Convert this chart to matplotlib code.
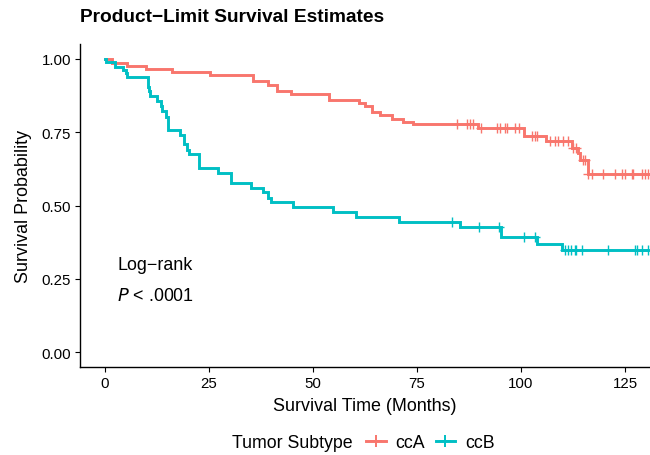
import numpy as np
import matplotlib
matplotlib.use("Agg")
import matplotlib.pyplot as plt
from matplotlib.lines import Line2D

plt.rcParams['font.family'] = ['Liberation Sans', 'DejaVu Sans']

groups = ["ccA", "ccB"]
colors = ["#F8766D", "#00BFC4"]

ccA_times = [0, 1.6, 5.4, 9.9, 16.0, 25.2, 35.5, 39.2, 41.4, 44.6, 53.8, 61.1, 62.5,
             64.3, 66.1, 68.9, 71.6, 74.1, 89.7, 100.6, 106.0, 112.2, 113.8, 114.2, 116.0]
ccA_surv = [1.0, 0.985, 0.976, 0.965, 0.953, 0.943, 0.923, 0.912, 0.889, 0.881, 0.858,
            0.849, 0.838, 0.818, 0.807, 0.795, 0.786, 0.777, 0.764, 0.735, 0.720, 0.695,
            0.678, 0.655, 0.606]
ccA_censor = [84.5, 86.9, 87.7, 88.5, 90.5, 94.2, 95.0, 96.2, 96.6, 98.6, 99.4, 102.6,
              103.4, 103.9, 107.0, 108.2, 109.0, 110.2, 111.4, 112.6, 113.2, 114.8, 115.4,
              116.2, 117.0, 119.8, 122.6, 124.2, 125.0, 126.6, 127.0, 129.0, 129.8, 130.6]

ccB_times = [0, 0.2, 2.4, 4.4, 5.0, 5.2, 10.4, 10.6, 10.9, 12.4, 13.4, 13.8, 14.7, 15.2,
             18.0, 19.0, 19.8, 20.3, 22.6, 27.2, 30.2, 35.1, 38.1, 39.1, 39.9, 45.3,
             54.7, 60.3, 70.7, 85.3, 95.2, 103.8, 109.8]
ccB_surv = [1.0, 0.989, 0.971, 0.963, 0.952, 0.938, 0.905, 0.890, 0.874, 0.857, 0.840,
            0.823, 0.803, 0.758, 0.741, 0.709, 0.690, 0.676, 0.627, 0.610, 0.575, 0.558,
            0.545, 0.527, 0.512, 0.495, 0.478, 0.461, 0.444, 0.427, 0.393, 0.370, 0.347]
ccB_censor = [83.3, 89.9, 94.7, 100.6, 103.4, 110.6, 111.4, 111.9, 113.0, 113.2, 114.6,
              121.0, 127.4, 127.8, 129.0, 130.6]

x_ticks = [0, 25, 50, 75, 100, 125]
y_ticks = [0.00, 0.25, 0.50, 0.75, 1.00]
y_ticklabels = ["0.00", "0.25", "0.50", "0.75", "1.00"]

fig = plt.figure(figsize=(6.5, 4.56), dpi=100)
ax = fig.add_axes([80/650, 1-368/456, 1-80/650, (368-45)/456])

data = [(ccA_times, ccA_surv, ccA_censor), (ccB_times, ccB_surv, ccB_censor)]
for (t, s, c), col in zip(data, colors):
    t = np.array(t); s = np.array(s); c = np.array(c)
    tt = np.append(t, c.max())
    ss = np.append(s, s[-1])
    ax.step(tt, ss, where='post', color=col, lw=2.1, solid_joinstyle='miter')
    idx = np.searchsorted(t, c, side='right') - 1
    ax.plot(c, s[idx], ls='none', marker='+', ms=7, mew=1.0, color=col)

ax.set_xlim(-6.0, 131.0)
ax.set_ylim(-0.05, 1.05)
ax.set_xticks(x_ticks)
ax.set_yticks(y_ticks)
ax.set_yticklabels(y_ticklabels)
for sp in ['top', 'right']:
    ax.spines[sp].set_visible(False)
for sp in ['left', 'bottom']:
    ax.spines[sp].set_linewidth(1.0)
ax.tick_params(direction='out', length=3.5, width=0.8, labelsize=10.8, colors='black', pad=3)

ax.set_xlabel("Survival Time (Months)", fontsize=12.9, labelpad=5)
ax.set_ylabel("Survival Probability", fontsize=12.9, labelpad=7)

ax.text(3, 0.298, "Log\u2212rank", fontsize=12.9, va='center', ha='left')
ax.text(3, 0.195, "$\\it{P}$ < .0001", fontsize=12.9, va='center', ha='left')

fig.text(80/650, 1-18/456, "Product\u2212Limit Survival Estimates", fontsize=13.8,
         fontweight='bold', va='center', ha='left')

fig.text(232/650, 1-444/456, "Tumor Subtype", fontsize=12.8, va='center', ha='left')
handles = [Line2D([], [], color=c, lw=2.1, marker='+', ms=9, mew=1.4) for c in colors]
fig.legend(handles, groups, loc='center left', bbox_to_anchor=(366/650, 1-444/456),
           ncol=2, frameon=False, fontsize=12.8, handlelength=1.1, handletextpad=0.55,
           columnspacing=0.6, borderaxespad=0, borderpad=0)

fig.savefig("out.png", dpi=100)
